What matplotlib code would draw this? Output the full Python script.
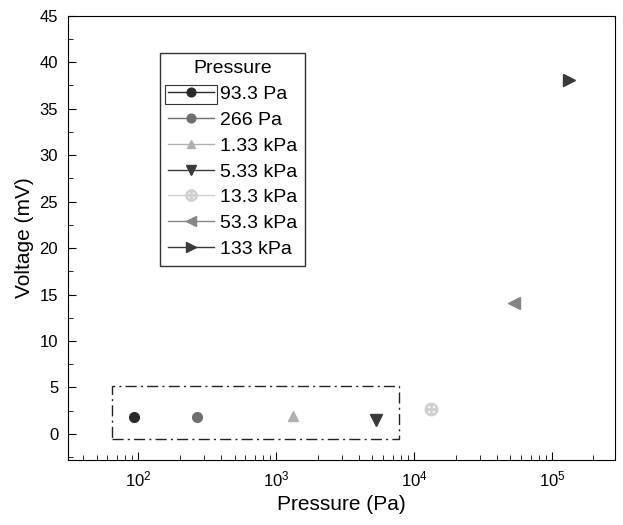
import matplotlib
matplotlib.use("Agg")
from matplotlib import pyplot as plt
from matplotlib.patches import Rectangle
from matplotlib.ticker import LogLocator, MultipleLocator, NullFormatter

plt.rcParams['font.family'] = ['Liberation Sans', 'DejaVu Sans']

labels = ["93.3 Pa", "266 Pa", "1.33 kPa", "5.33 kPa", "13.3 kPa", "53.3 kPa", "133 kPa"]
pressure = [93.3, 266, 1330, 5330, 13300, 53300, 133000]
voltage = [1.8, 1.8, 1.9, 1.5, 2.7, 14.1, 38.1]
markers = ["o", "o", "^", "v", "$\\oplus$", "<", ">"]
colors = ["#2a2a2a", "#6e6e6e", "#b0b0b0", "#3a3a3a", "#d0d0d0", "#858585", "#3a3a3a"]
sizes = [7, 7, 7, 8, 9, 8, 8]

fig = plt.figure(figsize=(6.23, 5.25), dpi=100)
ax = fig.add_axes([0.109, 0.124, 0.878, 0.846])

for p, v, m, c, s, lab in zip(pressure, voltage, markers, colors, sizes, labels):
    ax.plot([p], [v], marker=m, color=c, markersize=s, linestyle='-',
            linewidth=1, label=lab)

# dash-dot box around the low-voltage group
ax.add_patch(Rectangle((65, -0.6), 7800 - 65, 5.8, fill=False,
                       linestyle=(0, (8, 3, 1.5, 3)), linewidth=1, edgecolor='#222222'))

ax.set_xscale('log')
ax.set_xlim(31, 2.86e5)
ax.set_ylim(-2.8, 45)
ax.yaxis.set_major_locator(MultipleLocator(5))
ax.yaxis.set_minor_locator(MultipleLocator(2.5))
ax.xaxis.set_minor_locator(LogLocator(base=10, subs=range(2, 10), numticks=20))
ax.xaxis.set_minor_formatter(NullFormatter())
ax.tick_params(which='both', direction='in', labelsize=12, pad=7)
ax.tick_params(which='major', length=6)
ax.tick_params(which='minor', length=3.5)

ax.set_xlabel("Pressure (Pa)", fontsize=15)
ax.set_ylabel("Voltage (mV)", fontsize=15)

leg = ax.legend(title="Pressure", loc='upper left', bbox_to_anchor=(0.168, 0.917),
                borderaxespad=0, fontsize=14, title_fontsize=14, fancybox=False,
                edgecolor='#333333', framealpha=1, handlelength=2.4,
                handletextpad=0.3, labelspacing=0.42, borderpad=0.4,
                markerscale=0.9)
leg.get_frame().set_linewidth(1)

# small frame around the first legend entry
fig.canvas.draw()
r = fig.canvas.get_renderer()
fb = leg.get_frame().get_window_extent(r)
tb = leg.get_texts()[0].get_window_extent(r)
inv = ax.transAxes.inverted()
(x0, y0), (x1, y1) = inv.transform([(fb.x0 + 5, tb.y0 - 1), (tb.x0 - 3, tb.y1 + 1)])
ax.add_patch(Rectangle((x0, y0), x1 - x0, y1 - y0, transform=ax.transAxes,
                       fill=False, linewidth=0.8, edgecolor='#333333', zorder=10))

fig.savefig("out.png", dpi=100)
